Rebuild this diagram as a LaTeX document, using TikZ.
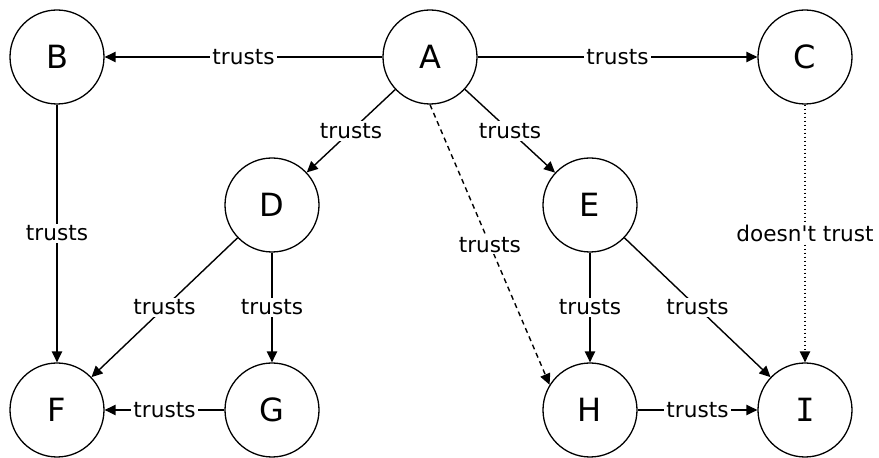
\documentclass[tikz,border=0pt]{standalone}
\usepackage{fontspec}
\newfontfamily\dejavu{DejaVu Sans}[Ligatures=TeXOff]
\newfontfamily\dejavumono{DejaVu Sans Mono}
\usetikzlibrary{arrows.meta}
\begin{document}
\begin{tikzpicture}[x=0.5pt,y=-0.5pt,
  vert/.style={circle,draw=black,line width=0.65pt,minimum size=47pt,inner sep=0pt,font=\dejavu\fontsize{16}{19}\selectfont},
  conn/.style={draw=black,line width=0.7pt,-{Triangle[length=5.5pt,width=5.2pt]}},
  lab/.style={fill=white,inner sep=1pt,font=\dejavu\fontsize{10.8}{13}\selectfont,text=black}]
\useasboundingbox (0,0) rectangle (879,458);
\node[vert] (A) at (430,57) {A};
\node[vert] (B) at (57,57) {B};
\node[vert] (C) at (805,57) {C};
\node[vert] (D) at (272,205) {D};
\node[vert] (E) at (590,205) {E};
\node[vert] (F) at (57,410) {F};
\node[vert] (G) at (272,410) {G};
\node[vert] (H) at (590,410) {H};
\node[vert,font=\dejavumono\fontsize{16}{19}\selectfont] (I) at (805,410) {I};
\draw[conn] (A) -- node[lab]{trusts} (B);
\draw[conn] (A) -- node[lab]{trusts} (C);
\draw[conn] (A) -- node[lab]{trusts} (D);
\draw[conn] (A) -- node[lab]{trusts} (E);
\draw[conn,dash pattern=on 2.5pt off 2pt] (A.south) -- node[lab]{trusts} (H.148);
\draw[conn,dash pattern=on 0.6pt off 1.4pt] (C) -- node[lab]{doesn't trust} (I);
\draw[conn] (B) -- node[lab]{trusts} (F);
\draw[conn] (D) -- node[lab]{trusts} (F);
\draw[conn] (D) -- node[lab]{trusts} (G);
\draw[conn] (E) -- node[lab]{trusts} (H);
\draw[conn] (E) -- node[lab]{trusts} (I);
\draw[conn] (G) -- node[lab]{trusts} (F);
\draw[conn] (H) -- node[lab]{trusts} (I);
\end{tikzpicture}
\end{document}
